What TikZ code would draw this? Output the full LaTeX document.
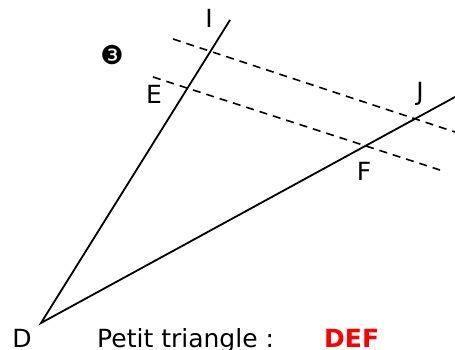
\documentclass[tikz,border=0pt]{standalone}
\usepackage{fontspec}
\setmainfont{DejaVu Sans}
\begin{document}
\begin{tikzpicture}[x=1pt,y=-1pt,
  solidline/.style={line width=1.8pt},
  dashline/.style={line width=1.6pt, dash pattern=on 8pt off 6pt},
  lbl/.style={anchor=base, inner sep=0pt, font=\fontsize{25}{30}\selectfont}]
\useasboundingbox (0,0) rectangle (455,350);
\coordinate (D) at (41,323);
\coordinate (Itop) at (230,20);
\coordinate (Jend) at (455,97);
\coordinate (A1) at (173,39);
\coordinate (A2) at (455,132);
\coordinate (B1) at (153,77);
\coordinate (B2) at (440,170);
\draw[solidline] (Itop) -- (D) -- (Jend);
\draw[dashline] (A1) -- (A2);
\draw[dashline] (B1) -- (B2);
\node[lbl] (I) at (209,28) {I};
\node[lbl] (E) at (154,104) {E};
\node[lbl] (J) at (420,101) {J};
\node[lbl] (F) at (364,180) {F};
\node[lbl] (Dl) at (22,347) {D};
\node[lbl, anchor=base west] (txt) at (97,347) {Petit triangle :};
\node[lbl, anchor=base west, text=red, font=\fontsize{25}{30}\selectfont\bfseries] (def) at (324,347) {DEF};
\node[inner sep=0pt, font=\fontsize{26}{30}\selectfont] (num) at (112,55) {❸};
\end{tikzpicture}
\end{document}
